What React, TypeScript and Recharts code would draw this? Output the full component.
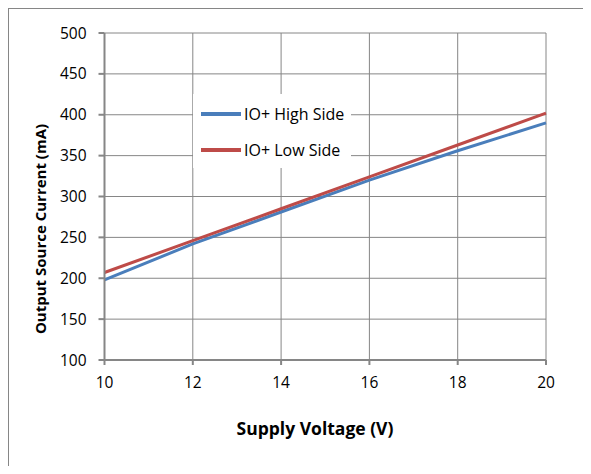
import React from "react";
import {
  LineChart,
  Line,
  XAxis,
  YAxis,
  CartesianGrid,
  Legend,
} from "recharts";

const voltage = [10, 12, 14, 16, 18, 20];
const highSide = [198, 242, 281, 320, 356, 390];
const lowSide = [207, 246, 285, 324, 363, 402];
const xTicks = [10, 12, 14, 16, 18, 20];
const yTicks = [100, 150, 200, 250, 300, 350, 400, 450, 500];

const BLUE = "#4A7EBB";
const RED = "#BE4B48";
const GRAY = "#868686";
const FONT = "'Open Sans', sans-serif";

const data = voltage.map((v, i) => ({ v, high: highSide[i], low: lowSide[i] }));

const LegendBox = () => (
  <div
    style={{
      background: "#fff",
      width: 158,
      height: 74,
      position: "relative",
      fontFamily: FONT,
      fontSize: 16,
      color: "#000",
    }}
  >
    {[
      { name: "IO+ High Side", color: BLUE, top: 20 },
      { name: "IO+ Low Side", color: RED, top: 56 },
    ].map((it) => (
      <div
        key={it.name}
        style={{
          position: "absolute",
          left: 8,
          top: it.top - 11,
          height: 22,
          display: "flex",
          alignItems: "center",
          whiteSpace: "nowrap",
        }}
      >
        <span
          style={{
            display: "inline-block",
            width: 40,
            height: 4,
            background: it.color,
            marginRight: 3,
          }}
        />
        {it.name}
      </div>
    ))}
  </div>
);

export default function App() {
  return (
    <div
      style={{
        position: "relative",
        width: 582,
        height: 465,
        marginBottom: -8,
        borderTop: `1px solid ${GRAY}`,
        borderLeft: `1px solid ${GRAY}`,
        background: "#fff",
      }}
    >
      <LineChart
        width={582}
        height={457}
        data={data}
        margin={{ top: 24, right: 45, left: 0, bottom: 0 }}
      >
        <CartesianGrid stroke={GRAY} strokeWidth={1} />
        <XAxis
          dataKey="v"
          type="number"
          domain={[10, 20]}
          ticks={xTicks}
          height={106}
          stroke={GRAY}
          strokeWidth={2}
          tickSize={5}
          tickMargin={12}
          tick={{ fill: "#000", fontSize: 15.5, fontFamily: FONT }}
          label={(props: any) => {
            const vb = props.viewBox;
            return (
              <text
                x={306}
                y={vb.y + 75}
                textAnchor="middle"
                fontFamily={FONT}
                fontSize={17.5}
                fontWeight="bold"
                fill="#000"
              >
                Supply Voltage (V)
              </text>
            );
          }}
        />
        <YAxis
          type="number"
          domain={[100, 500]}
          ticks={yTicks}
          width={95.5}
          stroke={GRAY}
          strokeWidth={2}
          tickSize={6}
          tickMargin={12}
          tick={{ fill: "#000", fontSize: 15.5, fontFamily: FONT }}
          label={(props: any) => {
            const vb = props.viewBox;
            const x = vb.x + 31;
            const y = 220;
            return (
              <text
                x={x}
                y={y}
                transform={`rotate(-90, ${x}, ${y})`}
                textAnchor="middle"
                dominantBaseline="central"
                fontFamily={FONT}
                fontSize={15}
                fontWeight="bold"
                fill="#000"
              >
                Output Source Current (mA)
              </text>
            );
          }}
        />
        <Legend
          layout="vertical"
          align="center"
          verticalAlign="middle"
          content={() => <LegendBox />}
          wrapperStyle={{ left: 184, top: 85, width: 158, height: 74 }}
        />
        <Line
          dataKey="high"
          name="IO+ High Side"
          stroke={BLUE}
          strokeWidth={3}
          dot={false}
          isAnimationActive={false}
        />
        <Line
          dataKey="low"
          name="IO+ Low Side"
          stroke={RED}
          strokeWidth={3}
          dot={false}
          isAnimationActive={false}
        />
      </LineChart>
    </div>
  );
}
